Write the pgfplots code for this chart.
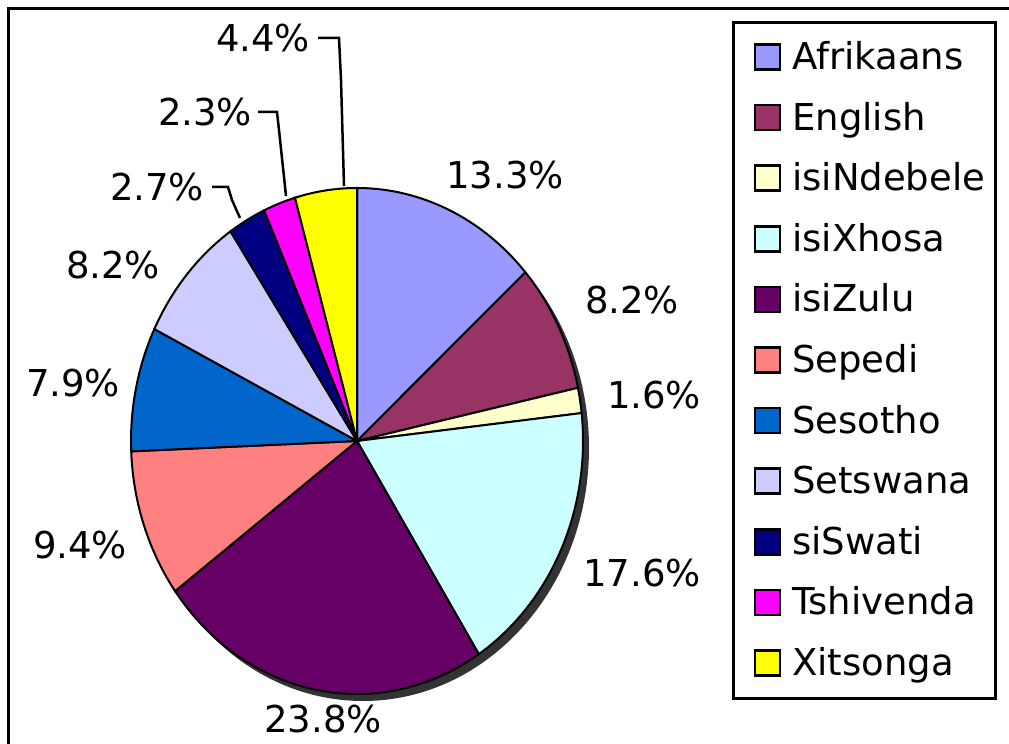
\documentclass[border=0pt]{standalone}
\usepackage{pgfplots}
\usepackage{pgfplotstable}
\pgfplotsset{compat=1.18}
\usepackage{fontspec}
\setmainfont{DejaVu Sans}
\definecolor{cA}{HTML}{9999FF}
\definecolor{cE}{HTML}{993366}
\definecolor{cN}{HTML}{FFFFCC}
\definecolor{cX}{HTML}{CCFFFF}
\definecolor{cZ}{HTML}{660066}
\definecolor{cP}{HTML}{FF8080}
\definecolor{cS}{HTML}{0066CC}
\definecolor{cT}{HTML}{CCCCFF}
\definecolor{cW}{HTML}{000080}
\definecolor{cV}{HTML}{FF00FF}
\definecolor{cG}{HTML}{FFFF00}
\pgfplotstableread{
lang val col
Afrikaans 13.3 cA
English 8.2 cE
isiNdebele 1.6 cN
isiXhosa 17.6 cX
isiZulu 23.8 cZ
Sepedi 9.4 cP
Sesotho 7.9 cS
Setswana 8.2 cT
siSwati 2.7 cW
Tshivenda 2.3 cV
Xitsonga 4.4 cG
}\piedata
\begin{document}
\begin{tikzpicture}[font=\fontsize{37}{44}\selectfont]
\begin{axis}[name=ax, hide axis, scale only axis, width=1009pt, height=744pt,
  xmin=0, xmax=1009, ymin=0, ymax=744, clip=false]
% outer frame
\draw[line width=3pt] (axis cs:8,-5) -- (axis cs:8,735) -- (axis cs:1015,735);
% 3D rim
\fill[black!80] (axis cs:363,296) ellipse [x radius=226pt, y radius=253pt];
% legend box
\draw[line width=3pt, fill=white] (axis cs:733,721) rectangle (axis cs:995,46);
\gdef\sa{90}
\pgfplotsforeachungrouped \i in {0,...,10}{%
  \pgfplotstablegetelem{\i}{val}\of\piedata \let\v\pgfplotsretval
  \pgfplotstablegetelem{\i}{col}\of\piedata \let\c\pgfplotsretval
  \pgfplotstablegetelem{\i}{lang}\of\piedata \let\n\pgfplotsretval
  \pgfmathsetmacro\ea{\sa-\v/99.4*360}%
  \pgfmathsetmacro\lyb{687-\i*60.6-12.5}%
  \pgfmathsetmacro\lyt{687-\i*60.6+12.5}%
  \pgfmathsetmacro\lbase{687-\i*60.6-12.5}%
  \edef\tmp{%
    \noexpand\fill[\c, draw=black, line width=2pt] (axis cs:357,303) -- ++(\sa:226pt and 253pt)
      arc[start angle=\sa, end angle=\ea, x radius=226pt, y radius=253pt] -- cycle;
    \noexpand\fill[\c, draw=black, line width=2.5pt] (axis cs:755,\lyb) rectangle (axis cs:780,\lyt);
    \noexpand\node[anchor=base west, inner sep=0pt] at (axis cs:792,\lbase) {\n};
  }%
  \tmp
  \global\let\sa\ea
}
% percentage labels
\node[inner sep=0pt] at (axis cs:505,569) {13.3\%};
\node[inner sep=0pt] at (axis cs:632,444) {8.2\%};
\node[inner sep=0pt] at (axis cs:654,349) {1.6\%};
\node[inner sep=0pt] at (axis cs:642,171) {17.6\%};
\node[inner sep=0pt] at (axis cs:323,25) {23.8\%};
\node[inner sep=0pt] at (axis cs:80,199) {9.4\%};
\node[inner sep=0pt] at (axis cs:73,361) {7.9\%};
\node[inner sep=0pt] at (axis cs:113,479) {8.2\%};
\node[inner sep=0pt] at (axis cs:157,557) {2.7\%};
\node[inner sep=0pt] at (axis cs:205,632) {2.3\%};
\node[inner sep=0pt] at (axis cs:263,706) {4.4\%};
% leader lines
\draw[line width=2.5pt] (axis cs:318,706) -- (axis cs:339,706) -- (axis cs:341,664) -- (axis cs:344,558);
\draw[line width=2.5pt] (axis cs:258,632) -- (axis cs:277,632) -- (axis cs:279,614) -- (axis cs:286,548);
\draw[line width=2.5pt] (axis cs:212,557) -- (axis cs:228,557) -- (axis cs:232,544) -- (axis cs:240,526);
\end{axis}
\pgfresetboundingbox
\path[use as bounding box] (ax.south west) rectangle (ax.north east);
\end{tikzpicture}
\end{document}
